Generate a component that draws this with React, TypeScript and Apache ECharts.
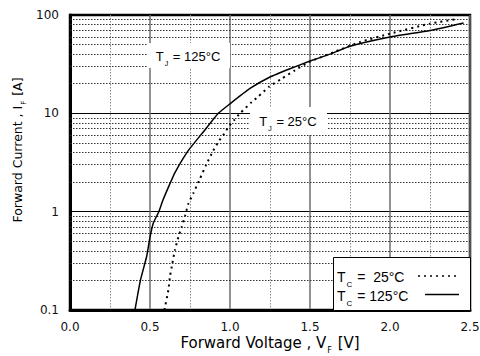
import React, { useEffect, useRef } from "react";
import * as echarts from "echarts";

const vf125 = [0.406, 0.44, 0.479, 0.5, 0.52, 0.555, 0.58, 0.62, 0.656, 0.74, 0.833, 0.927, 1.0, 1.125, 1.25, 1.375, 1.5, 1.625, 1.75, 2.0, 2.25, 2.46];
const if125 = [0.1, 0.2, 0.35, 0.55, 0.76, 1.0, 1.3, 1.85, 2.5, 4.2, 6.46, 10, 12.5, 17.9, 23.4, 28.4, 34, 40, 48, 59.6, 69.6, 83];

const vf25 = [0.59, 0.615, 0.625, 0.64, 0.656, 0.677, 0.698, 0.72, 0.74, 0.77, 0.8125, 0.85, 0.896, 0.933, 0.964, 0.99, 1.025, 1.0625, 1.135, 1.177, 1.245, 1.323, 1.406, 1.49, 1.65, 1.81, 2.0, 2.25, 2.42];
const if25 = [0.1, 0.16, 0.22, 0.3, 0.41, 0.55, 0.7, 0.92, 1.21, 1.53, 2.17, 2.97, 4.2, 5.3, 6.2, 7.25, 8.5, 10, 13, 14.8, 18.7, 22.5, 27.4, 33, 42, 53, 64.6, 81.7, 91];

const minorY = [0.2, 0.3, 0.4, 0.5, 0.6, 0.7, 0.8, 0.9, 2, 3, 4, 5, 6, 7, 8, 9, 20, 30, 40, 50, 60, 70, 80, 90];

const xMin = 0;
const xMax = 2.5;
const xInterval = 0.5;
const yMin = 0.1;
const yMax = 100;

const FONT = "Liberation Sans, Arial, sans-serif";
const AXFONT = "DejaVu Sans, sans-serif";
const subRich = { fontSize: 7, padding: [14, 1, 0, 1], fontFamily: FONT, color: "#111" };
const mainRich = { fontSize: 13, fontFamily: FONT, color: "#111" };
const legMain = { fontSize: 14, fontFamily: FONT, color: "#111" };
const legSub = { fontSize: 8, padding: [15, 1, 0, 1], fontFamily: FONT, color: "#111" };

export default function App() {
  const ref = useRef<HTMLDivElement>(null);
  useEffect(() => {
    if (!ref.current) return;
    const chart = echarts.init(ref.current, null, { renderer: "svg" });
    const option = {
      animation: false,
      backgroundColor: "#fff",
      grid: {
        left: 70, right: 10, top: 15, bottom: 46,
        outerBoundsMode: "none",
        containLabel: false,
        show: true, borderColor: "#000", borderWidth: 2.5, backgroundColor: "transparent",
      },
      xAxis: {
        type: "value", min: xMin, max: xMax, interval: xInterval,
        axisLine: { show: true, lineStyle: { color: "#000", width: 3 } },
        axisTick: { show: false },
        minorTick: { show: false, splitNumber: 2 },
        axisLabel: { fontSize: 12, fontFamily: AXFONT, color: "#111", margin: 11, formatter: (v: number) => v.toFixed(1) },
        splitLine: { show: true, lineStyle: { color: "#6e6e6e", width: 1.5 } },
        minorSplitLine: { show: true, lineStyle: { color: "#8a8a8a", width: 1, type: [1.5, 1.5] } },
      },
      yAxis: {
        type: "log", logBase: 10, min: yMin, max: yMax,
        axisLine: { show: true, lineStyle: { color: "#000", width: 3 } },
        axisTick: { show: false },
        axisLabel: { fontSize: 12, fontFamily: AXFONT, color: "#111", margin: 11 },
        splitLine: { show: true, lineStyle: { color: "#000", width: 1 } },
      },
      series: [
        {
          type: "line", name: "grid", data: [], silent: true,
          markLine: {
            silent: true, symbol: "none", label: { show: false },
            lineStyle: { color: "#333", width: 1, type: [1.5, 1.5] },
            data: minorY.map((v) => ({ yAxis: v })),
          },
        },
        {
          type: "line", name: "Tc=25", showSymbol: false, smooth: 0.15,
          data: vf25.map((v, i) => [v, if25[i]]),
          lineStyle: { color: "#000", width: 2, type: [2, 4] },
          z: 5,
        },
        {
          type: "line", name: "Tc=125", showSymbol: false, smooth: 0.15,
          data: vf125.map((v, i) => [v, if125[i]]),
          lineStyle: { color: "#000", width: 1.5, type: "solid" },
          z: 6,
        },
      ],
      graphic: [
        {
          type: "text", x: 270, y: 343, z: 11,
          style: {
            text: "{m|Forward Voltage , V}{s|F}{m| [V]}",
            rich: {
              m: { fontSize: 15, fontFamily: AXFONT, color: "#111" },
              s: { fontSize: 8, padding: [14, 1, 0, 1], fontFamily: AXFONT, color: "#111" },
            },
            align: "center", verticalAlign: "middle",
          },
        },
        {
          type: "text", x: 17, y: 150, rotation: Math.PI / 2, z: 11,
          style: {
            text: "{m|Forward Current , I}{s|F}{m| [A]}",
            rich: {
              m: { fontSize: 12.5, fontFamily: AXFONT, color: "#111" },
              s: { fontSize: 7, padding: [13, 1, 0, 1], fontFamily: AXFONT, color: "#111" },
            },
            align: "center", verticalAlign: "middle",
          },
        },
        { type: "rect", shape: { x: 147, y: 43, width: 83, height: 25 }, style: { fill: "#fff" }, z: 10 },
        {
          type: "text", x: 188, y: 56, z: 11,
          style: { text: "{m|T}{s|J}{m| = 125°C}", rich: { m: mainRich, s: subRich }, align: "center", verticalAlign: "middle" },
        },
        { type: "rect", shape: { x: 250, y: 107, width: 77, height: 28 }, style: { fill: "#fff" }, z: 10 },
        {
          type: "text", x: 288, y: 121, z: 11,
          style: { text: "{m|T}{s|J}{m| = 25°C}", rich: { m: mainRich, s: subRich }, align: "center", verticalAlign: "middle" },
        },
        { type: "rect", shape: { x: 333.5, y: 257.5, width: 137, height: 53 }, style: { fill: "#fff", stroke: "#000", lineWidth: 1 }, z: 10 },
        {
          type: "text", x: 337, y: 277, z: 11,
          style: { text: "{m|T}{s|C}{m| =  25°C}", rich: { m: legMain, s: legSub }, align: "left", verticalAlign: "middle" },
        },
        {
          type: "text", x: 337, y: 296, z: 11,
          style: { text: "{m|T}{s|C}{m| = 125°C}", rich: { m: legMain, s: legSub }, align: "left", verticalAlign: "middle" },
        },
        { type: "line", shape: { x1: 418, y1: 276, x2: 456, y2: 276 }, style: { stroke: "#000", lineWidth: 1.5, lineDash: [2, 4] }, z: 11 },
        { type: "line", shape: { x1: 425, y1: 294.5, x2: 459, y2: 294.5 }, style: { stroke: "#000", lineWidth: 1.5 }, z: 11 },
      ],
    };
    chart.setOption(option as any);
    return () => chart.dispose();
  }, []);
  return <div ref={ref} style={{ width: 480, height: 356, position: "absolute", left: 0, top: 0 }} />;
}
